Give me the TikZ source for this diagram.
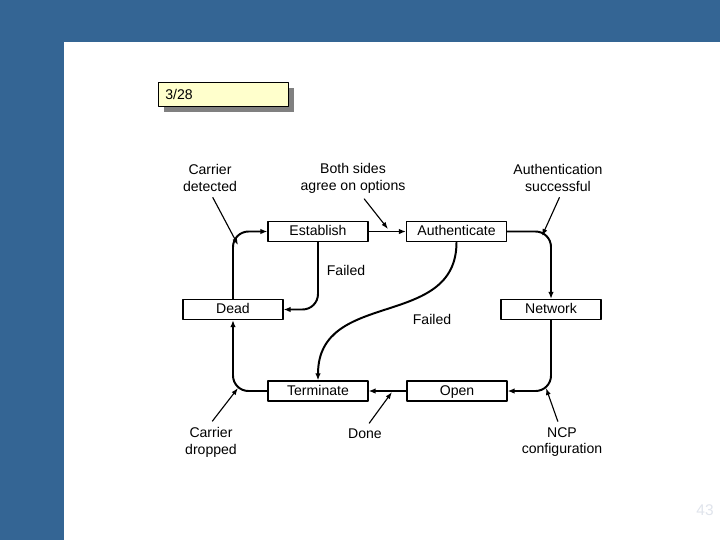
\documentclass[tikz,border=0pt]{standalone}
\usepackage{fontspec}
\setmainfont{Liberation Sans}
\usepackage{xcolor}
\usepackage{tikz}
\usetikzlibrary{calc,arrows.meta,positioning}

\definecolor{slideblue}{RGB}{52,101,148}
\definecolor{notebg}{RGB}{255,255,204}
\definecolor{shadowgray}{RGB}{128,128,128}
\definecolor{pagegray}{RGB}{224,228,236}

\begin{document}
\begin{tikzpicture}[x=0.025cm, y=-0.025cm, line cap=round, line join=round,
    state/.style={draw, line width=1pt, minimum width=71pt, minimum height=14.2pt,
                  inner sep=0pt, text height=7.3pt, text depth=1.5pt,
                  font=\fontsize{10}{12}\selectfont},
    lbl/.style={align=center, inner sep=0pt, font=\fontsize{10}{12}\selectfont},
    flow/.style={line width=1.4pt, rounded corners=11pt,
                 -{Latex[length=5pt,width=4pt]}},
    note/.style={line width=0.8pt, -{Latex[length=5pt,width=3.5pt]}}]

% ---------------------------------------------------------
% Slide background
% ---------------------------------------------------------
\fill[slideblue] (0,0) rectangle (720,540);
\fill[white] (64,42) rectangle (720,540);
\useasboundingbox (0,0) rectangle (720,540);

% ---------------------------------------------------------
% Slide tag with shadow
% ---------------------------------------------------------
\fill[shadowgray] (164,88) rectangle (294,112);
\node[draw, line width=0.5pt, fill=notebg, anchor=north west,
      minimum width=92.4pt, minimum height=17pt, text width=82.4pt,
      inner xsep=5pt, inner ysep=0pt, align=left,
      font=\fontsize{10}{12}\selectfont] (tag) at (158,82) {3/28};

% ---------------------------------------------------------
% States
% ---------------------------------------------------------
\node[state] (est)  at (318,231.5)   {Establish};
\node[state] (auth) at (456.5,231.5) {Authenticate};
\node[state] (dead) at (233,309.5)   {Dead};
\node[state] (net)  at (551,309.5)   {Network};
\node[state] (term) at (318,391)     {Terminate};
\node[state] (open) at (457,391)     {Open};

% ---------------------------------------------------------
% Transitions
% ---------------------------------------------------------
\draw[flow] (dead.north) |- (est.west);
\draw[flow] (est.east) -- (auth.west);
\draw[flow] (auth.east) -| (net.north);
\draw[flow] (net.south) |- (open.east);
\draw[flow] (open.west) -- (term.east);
\draw[flow] (term.west) -| (dead.south);
\draw[flow] (est.south) |- (dead.east);
\draw[flow] (auth.south) .. controls +(0,88) and +(0,-92) .. (term.north);

\node[lbl] (failEst)  at (346,270) {Failed};
\node[lbl] (failAuth) at (432,319) {Failed};

% ---------------------------------------------------------
% Event labels
% ---------------------------------------------------------
\node[lbl] (cdet) at (210,178) {Carrier\\detected};
\node[lbl] (both) at (353,178) {Both sides\\agree on options};
\node[lbl] (asucc) at (558,178) {Authentication\\successful};
\node[lbl] (cdrop) at (211,442) {Carrier\\dropped};
\node[lbl] (done) at (365,434) {Done};
\node[lbl] (ncp) at (562,442) {NCP\\configuration};

\coordinate (cdetTip)  at (238,245);
\coordinate (bothTip)  at (388,229);
\coordinate (asuccTip) at (542,236);
\coordinate (cdropTip) at (238,388);
\coordinate (doneTip)  at (392,392);
\coordinate (ncpTip)   at (546,388);

\draw[note] ([xshift=2pt,yshift=-4pt]cdet.south) -- (cdetTip);
\draw[note] ([xshift=8pt,yshift=-4pt]both.south) -- (bothTip);
\draw[note] ([xshift=1pt,yshift=-4pt]asucc.south) -- (asuccTip);
\draw[note] ([xshift=1pt,yshift=4pt]cdrop.north) -- (cdropTip);
\draw[note] ([xshift=3pt,yshift=4pt]done.north) -- (doneTip);
\draw[note] ([xshift=-3pt,yshift=4pt]ncp.north) -- (ncpTip);

% ---------------------------------------------------------
% Page number
% ---------------------------------------------------------
\node[text=pagegray, font=\fontsize{11}{13}\selectfont] (pgnum) at (705,510) {43};

\end{tikzpicture}
\end{document}
